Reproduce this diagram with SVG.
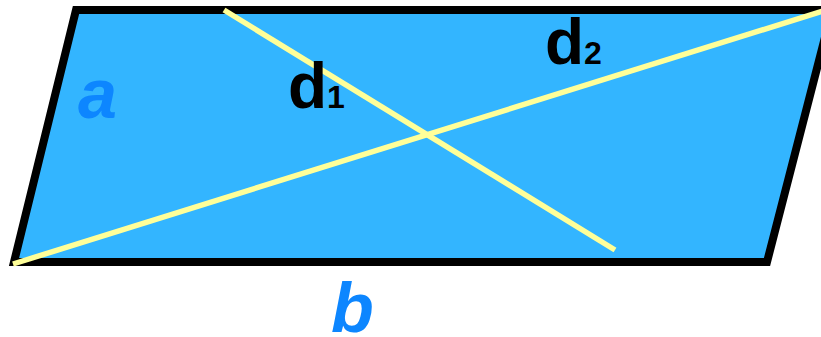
<svg xmlns="http://www.w3.org/2000/svg" width="821" height="337" viewBox="0 0 821 337">
<style>
.lbl{font-family:"Liberation Sans",Arial,sans-serif;font-weight:bold}
.side{fill:#0d86ff;font-style:italic;font-size:70px}
.diag{fill:#000;font-size:64px}
.sub{font-size:32px}
.dl{stroke:#ffff99;stroke-width:5.5;fill:none}
</style>
<g id="parallelogram">
<polygon points="76,10 832,10 767,262 14,262" fill="#33b5ff" stroke="#000" stroke-width="8" stroke-linejoin="miter"/>
</g>
<g id="connectors">
<line class="dl" x1="13" y1="264" x2="823" y2="11"/>
<line class="dl" x1="224" y1="10" x2="615" y2="250"/>
</g>
<g id="label-a"><text class="lbl side" x="78" y="118">a</text></g>
<g id="label-b"><text class="lbl side" x="331" y="332">b</text></g>
<g id="label-d1"><text class="lbl diag" x="288" y="108">d<tspan class="sub">1</tspan></text></g>
<g id="label-d2"><text class="lbl diag" x="545" y="64">d<tspan class="sub">2</tspan></text></g>
</svg>
